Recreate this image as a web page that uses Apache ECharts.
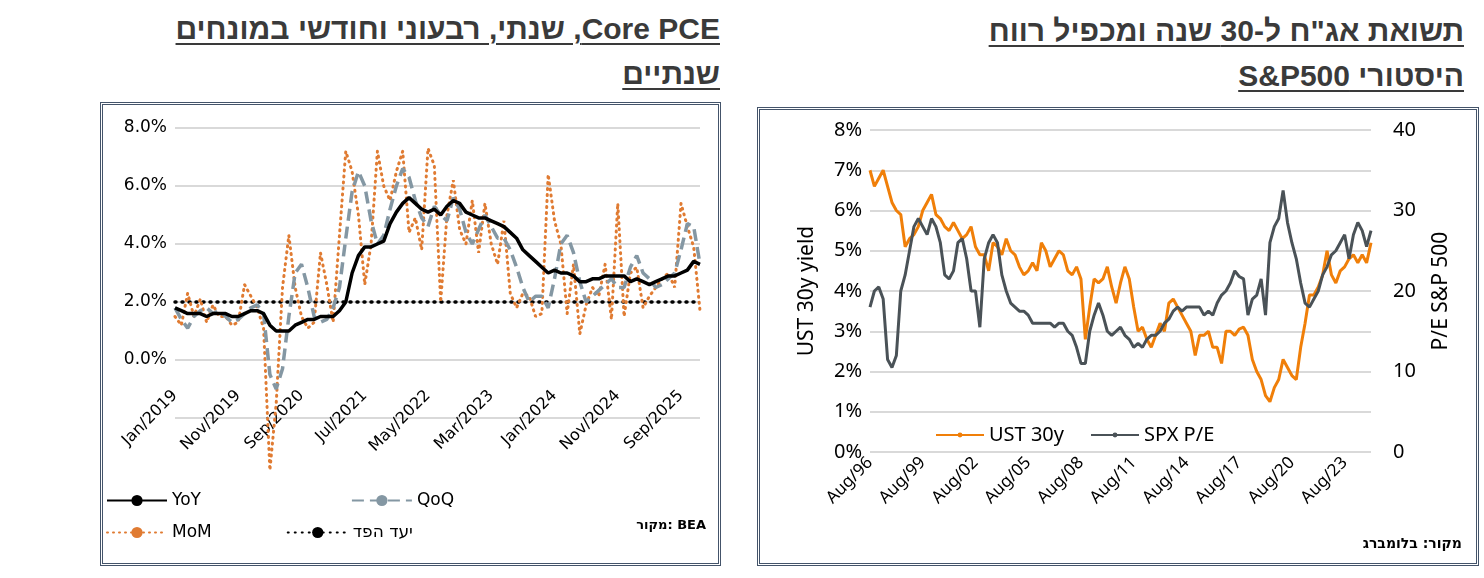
<!DOCTYPE html>
<html>
<head>
<meta charset="utf-8">
<script src="https://cdn.jsdelivr.net/npm/echarts@6/dist/echarts.min.js"></script>
<style>
body{margin:0;width:1484px;height:578px;background:#fff;position:relative;overflow:hidden;font-family:"DejaVu Sans",sans-serif}
.ttl{position:absolute;direction:rtl;text-align:right;font-family:"Liberation Sans",Arial,sans-serif;font-weight:bold;font-size:30px;line-height:45px;color:#3a3a3a;text-decoration:underline;text-decoration-thickness:2px;text-underline-offset:4px}
.box{position:absolute;border:3px double #44546a;box-sizing:border-box}
</style>
</head>
<body>
<div class="ttl" style="right:764px;top:6px;width:700px">Core PCE, שנתי, רבעוני וחודשי במונחים<br>שנתיים</div>
<div class="ttl" style="right:20px;top:8px;width:680px">תשואת אג"ח ל-30 שנה ומכפיל רווח<br>היסטורי S&amp;P500</div>
<div class="box" id="left" style="left:100px;top:102px;width:621px;height:464px"></div>
<div class="box" id="right" style="left:757px;top:107px;width:722px;height:459px"></div>
<script>
// ---- left chart: Core PCE, monthly Jan/2019 - Dec/2025
var months=["Jan","Feb","Mar","Apr","May","Jun","Jul","Aug","Sep","Oct","Nov","Dec"];
var pceDates=[];
for(var y=2019;y<=2025;y++){for(var m=0;m<12;m++){pceDates.push(months[m]+"/"+y);}}

var yoy=[1.8,1.7,1.6,1.6,1.6,1.5,1.6,1.6,1.6,1.5,1.5,1.6,
1.7,1.7,1.6,1.2,1.0,1.0,1.0,1.2,1.3,1.4,1.4,1.5,
1.5,1.5,1.7,2.0,3.0,3.6,3.9,3.9,4.0,4.1,4.7,5.1,
5.4,5.6,5.4,5.2,5.1,5.2,5.0,5.3,5.5,5.4,5.1,5.0,
4.9,4.9,4.8,4.7,4.6,4.4,4.2,3.8,3.6,3.4,3.2,3.0,
3.1,3.0,3.0,2.9,2.7,2.7,2.8,2.8,2.9,2.9,2.9,2.9,
2.7,2.8,2.7,2.6,2.7,2.8,2.9,2.9,3.0,3.1,3.4,3.3];
var qoq=[1.8,1.4,1.1,1.5,1.7,1.8,1.6,1.7,1.5,1.3,1.4,1.6,
1.8,1.9,1.6,-0.5,-1.0,-0.3,1.5,3.0,3.3,2.5,1.5,1.3,
1.4,1.8,2.5,4.2,5.8,6.5,6.0,4.8,4.0,4.3,5.2,6.0,
6.6,6.3,5.5,4.9,4.6,5.3,5.0,4.8,5.6,5.2,4.4,4.0,
4.5,5.0,4.6,4.2,4.2,3.8,3.2,2.5,2.0,2.2,2.2,1.8,
2.8,4.0,4.3,3.7,2.7,2.0,2.2,2.4,2.6,2.8,2.5,2.5,
3.2,3.6,3.0,2.8,2.5,2.6,2.8,3.0,3.8,4.7,4.6,3.3];
var mom=[1.5,1.2,2.3,1.5,2.1,1.3,1.9,1.5,1.5,1.2,1.3,2.6,
2.2,1.8,1.1,-3.8,-1.5,2.5,4.3,2.5,1.5,1.1,1.3,3.7,
2.6,1.3,4.3,7.2,6.5,5.0,2.6,4.0,7.2,6.0,5.5,6.5,
7.2,4.4,4.9,3.8,7.3,6.7,2.0,5.0,6.2,4.5,4.0,5.5,
3.7,5.4,4.0,3.3,4.8,2.3,1.8,2.3,2.2,1.5,1.6,6.4,
4.8,4.0,1.6,3.3,0.9,1.9,2.5,2.2,3.3,1.4,5.4,1.5,
3.0,3.2,1.8,2.2,2.5,2.8,3.0,2.5,5.4,4.6,3.9,1.7];
var fedTarget=pceDates.map(function(){return 2.0;});

var left=echarts.init(document.getElementById("left"));
left.setOption({
  animation:false,
  textStyle:{fontFamily:"DejaVu Sans"},
  grid:{left:72,right:18,top:23,bottom:145},
  xAxis:{type:"category",data:pceDates,boundaryGap:false,
    axisLine:{show:false},axisTick:{show:false},
    axisLabel:{interval:9,rotate:45,fontSize:16,color:"#000",margin:-25}},
  yAxis:{type:"value",min:-2,max:8,interval:2,
    axisLabel:{formatter:function(v){return v<0?"":v.toFixed(1)+"%";},fontSize:17,color:"#000"},
    splitLine:{lineStyle:{color:"#d9d9d9",width:2}}},
  legend:[
    {data:["YoY","QoQ"],top:382,left:-2,itemGap:150,itemWidth:60,textStyle:{fontSize:17,color:"#000"}},
    {data:["MoM","יעד הפד"],top:414,left:-2,itemGap:75,itemWidth:60,textStyle:{fontSize:17,color:"#000"}}
  ],
  graphic:[{type:"text",right:12,top:414,style:{text:"מקור: BEA",font:"bold 13px DejaVu Sans",fill:"#000"}}],
  series:[
    {name:"יעד הפד",type:"line",data:fedTarget,symbol:"none",lineStyle:{color:"#000",width:3.5,type:[1,6],cap:"round"},itemStyle:{color:"#000"}},
    {name:"MoM",type:"line",data:mom,symbol:"none",clip:false,lineStyle:{color:"#e07b32",width:3,type:[1,5],cap:"round"},itemStyle:{color:"#e07b32"}},
    {name:"QoQ",type:"line",data:qoq,symbol:"none",lineStyle:{color:"#8497a3",width:3.5,type:[12,6]},itemStyle:{color:"#8497a3"}},
    {name:"YoY",type:"line",data:yoy,symbol:"none",lineStyle:{color:"#000",width:3.5},itemStyle:{color:"#000"}}
  ]
});

// ---- right chart: UST 30y vs S&P500 P/E, quarterly from Aug/96
var ust30=[7.0,6.6,6.8,7.0,6.6,6.2,6.0,5.9,5.1,5.3,5.4,5.6,6.0,6.2,6.4,5.9,5.8,5.6,5.5,5.7,5.5,5.3,5.4,5.6,
5.1,4.9,4.9,4.5,5.2,5.1,4.9,5.3,5.0,4.9,4.6,4.4,4.5,4.7,4.5,5.2,5.0,4.6,4.8,5.0,4.9,4.5,4.4,4.6,
4.3,2.8,3.6,4.3,4.2,4.3,4.6,4.1,3.7,4.2,4.6,4.3,3.6,3.0,3.1,2.8,2.6,2.9,3.2,3.0,3.7,3.8,3.6,3.4,
3.2,3.0,2.4,2.9,2.9,3.0,2.6,2.6,2.2,3.0,3.0,2.9,3.05,3.1,2.9,2.3,2.0,1.8,1.4,1.25,1.6,1.8,2.3,2.1,
1.9,1.8,2.6,3.2,3.9,3.9,4.1,4.4,5.0,4.4,4.2,4.5,4.6,4.8,4.9,4.7,4.9,4.7,5.2];
var spxPE=[18,20,20.5,19,11.5,10.5,12,20,22,25,28,29,28,27,29,28,26,22,21.5,22.5,26,26.5,24,20,
20,15.5,24,26,27,26,22,20,18.5,18,17.5,17.5,17,16,16,16,16,16,15.5,16,16,15,14.5,13,
11,11,15,17,18.5,17,15,14.5,15,15.5,14.5,14,13,13.5,13,14,14.5,14.5,15,16,16.5,17.5,18,17.5,
18,18,18,18,17,17.5,17,18.5,19.5,20,21,22.5,21.8,21.5,17,19,19.5,21.5,17,26,28,29,32.5,28.5,
26,24,21,18.5,18,19,20,22,23,24.5,25,26,27,24,27,28.5,27.5,25.5,27.5];
var ustDates=[];
for(var i=0;i<ust30.length;i++){
  var mi=7+i*3, yr=1996+Math.floor(mi/12);
  ustDates.push(months[mi%12]+"/"+String(yr%100).padStart(2,"0"));
}

var right=echarts.init(document.getElementById("right"));
right.setOption({
  animation:false,
  textStyle:{fontFamily:"Noto Sans"},
  grid:{left:110,right:105,top:20,bottom:111},
  legend:{data:["UST 30y","SPX P/E"],top:310,left:170,itemGap:26,itemWidth:48,itemHeight:6,
    textStyle:{fontSize:20,color:"#000",fontFamily:"Noto Sans"}},
  xAxis:{type:"category",data:ustDates,boundaryGap:false,
    axisLine:{show:false},axisTick:{show:false},
    axisLabel:{interval:11,rotate:45,fontSize:17,color:"#000",margin:8}},
  yAxis:[
    {type:"value",min:0,max:8,interval:1,name:"UST 30y yield",nameLocation:"middle",nameGap:52,
      nameTextStyle:{fontSize:21,color:"#000"},
      axisLabel:{formatter:"{value}%",fontSize:20,color:"#000"},
      splitLine:{lineStyle:{color:"#d9d9d9",width:2}}},
    {type:"value",min:0,max:40,interval:10,name:"P/E S&P 500",nameLocation:"middle",nameGap:60,nameRotate:90,
      nameTextStyle:{fontSize:21,color:"#000"},
      axisLabel:{fontSize:20,color:"#000",margin:22},splitLine:{show:false}}
  ],
  graphic:[{type:"text",right:14,top:427,style:{text:"מקור: בלומברג",font:"bold 14px DejaVu Sans",fill:"#000"}}],
  series:[
    {name:"UST 30y",type:"line",data:ust30,symbol:"none",lineStyle:{color:"#f07f09",width:3},itemStyle:{color:"#f07f09"}},
    {name:"SPX P/E",type:"line",yAxisIndex:1,data:spxPE,symbol:"none",lineStyle:{color:"#4a5257",width:3},itemStyle:{color:"#4a5257"}}
  ]
});
</script>
</body>
</html>
